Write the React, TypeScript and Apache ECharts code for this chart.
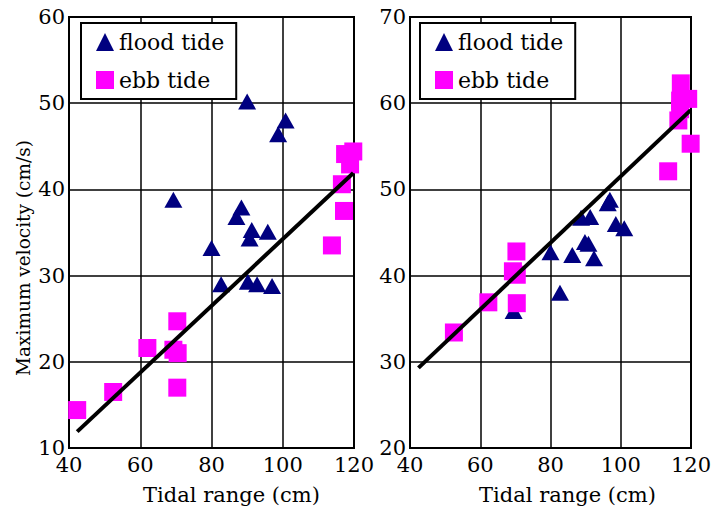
import React, { useEffect, useRef } from "react";
import * as echarts from "echarts";

const xTicks = [40, 60, 80, 100, 120];
const leftYRange = [10, 60];
const rightYRange = [20, 70];
const yTitle = "Maximum velocity (cm/s)";
const xTitle = "Tidal range (cm)";

const leftFlood = [
  [69.3, 38.8], [90, 50.2], [100.8, 48.0], [98.7, 46.4], [80, 33.2], [88.4, 37.9], [87, 36.8],
  [91.3, 35.3], [90.7, 34.3], [95.8, 35.1], [82.7, 29.0], [90.2, 29.3], [92.8, 29.0], [97.0, 28.8],
];
const leftEbb = [
  [42.3, 14.4], [52.4, 16.5], [62, 21.6], [69.3, 21.4], [70.5, 21.0], [70.4, 24.7], [70.4, 17.0],
  [113.8, 33.5], [117.2, 37.5], [116.6, 40.6], [118.9, 42.9], [117.5, 44.1], [119.8, 44.4],
];
const leftFit = [[42.3, 11.9], [119.8, 41.9]];

const rightFlood = [
  [69.5, 35.9], [82.7, 38.0], [80, 42.7], [86.2, 42.4], [92.4, 42.0], [89.8, 43.9], [90.8, 43.7],
  [88.7, 46.7], [91.3, 46.8], [96.3, 48.4], [96.9, 48.8], [98.6, 46.0], [101.0, 45.5],
];
const rightEbb = [
  [52.5, 33.4], [62.3, 36.9], [70.3, 42.8], [69.3, 40.5], [70.4, 40.1], [70.4, 36.8],
  [113.5, 52.1], [119.9, 55.3], [116.4, 58.0], [116.9, 59.3], [119.2, 60.5], [116.9, 60.3], [117.1, 62.3],
];
const rightFit = [[42.4, 29.3], [119.9, 59.2]];

const SERIF = "DejaVu Serif";
const NAVY = "#000080";
const MAGENTA = "#ff00ff";

export default function App() {
  const ref = useRef<HTMLDivElement>(null);
  useEffect(() => {
    if (!ref.current) return;
    const chart = echarts.init(ref.current, undefined, { renderer: "svg" });
    const tickStyle = { color: "#000", fontSize: 21, fontFamily: SERIF };
    const xAxis = (gi: number, pad: number) => ({
      type: "value",
      gridIndex: gi,
      min: xTicks[0],
      max: xTicks[xTicks.length - 1],
      interval: xTicks[1] - xTicks[0],
      axisLine: { show: true, lineStyle: { color: "#000", width: 2 } },
      axisTick: { show: false },
      axisLabel: { ...tickStyle, margin: 6 },
      splitLine: { show: true, lineStyle: { color: "#000", width: 1.5 } },
      name: xTitle,
      nameLocation: "middle",
      nameGap: 36,
      nameTextStyle: { color: "#000", fontSize: 21, fontFamily: SERIF, padding: [0, 0, 0, pad] },
    });
    const yAxis = (gi: number, range: number[]) => ({
      type: "value",
      gridIndex: gi,
      min: range[0],
      max: range[1],
      interval: 10,
      axisLine: { show: true, lineStyle: { color: "#000", width: 2 } },
      axisTick: { show: false },
      axisLabel: { ...tickStyle, margin: 4 },
      splitLine: { show: true, lineStyle: { color: "#000", width: 1.5 } },
    });
    const legend = (left: number) => ({
      left,
      top: 23,
      orient: "vertical",
      data: ["flood tide", "ebb tide"],
      borderColor: "#000",
      borderWidth: 2,
      backgroundColor: "#fff",
      padding: [8, 12, 8, 15],
      itemWidth: 18,
      itemHeight: 18,
      itemGap: 16,
      textStyle: { color: "#000", fontSize: 22, fontFamily: SERIF },
      selectedMode: false,
    });
    const flood = (i: number, data: number[][]) => ({
      name: "flood tide",
      type: "scatter",
      xAxisIndex: i,
      yAxisIndex: i,
      data,
      symbol: "triangle",
      symbolSize: [18, 16],
      itemStyle: { color: NAVY, opacity: 1 },
      z: 2,
    });
    const ebb = (i: number, data: number[][]) => ({
      name: "ebb tide",
      type: "scatter",
      xAxisIndex: i,
      yAxisIndex: i,
      data,
      symbol: "rect",
      symbolSize: 18,
      itemStyle: { color: MAGENTA, opacity: 1 },
      z: 3,
    });
    const fit = (i: number, data: number[][]) => ({
      name: "fit",
      type: "line",
      xAxisIndex: i,
      yAxisIndex: i,
      data,
      showSymbol: false,
      symbol: "none",
      lineStyle: { color: "#000", width: 4 },
      z: 4,
    });
    chart.setOption({
      animation: false,
      backgroundColor: "#fff",
      grid: [
        { left: 69, top: 17, width: 285, height: 431, show: true, borderColor: "#000", borderWidth: 2, backgroundColor: "transparent" },
        { left: 410, top: 17, width: 281, height: 431, show: true, borderColor: "#000", borderWidth: 2, backgroundColor: "transparent" },
      ],
      xAxis: [xAxis(0, 40), xAxis(1, 34)],
      yAxis: [yAxis(0, leftYRange), yAxis(1, rightYRange)],
      legend: [legend(81), legend(420)],
      graphic: [
        {
          type: "text",
          x: 23,
          y: 258,
          rotation: Math.PI / 2,
          style: {
            text: yTitle,
            fill: "#000",
            fontSize: 18.5,
            fontFamily: SERIF,
            align: "center",
            verticalAlign: "middle",
          },
        },
      ],
      series: [
        flood(0, leftFlood), ebb(0, leftEbb), fit(0, leftFit),
        flood(1, rightFlood), ebb(1, rightEbb), fit(1, rightFit),
      ],
    });
    return () => chart.dispose();
  }, []);
  return (
    <div
      ref={ref}
      style={{ position: "fixed", left: 0, top: 0, width: 723, height: 511, background: "#fff" }}
    />
  );
}
